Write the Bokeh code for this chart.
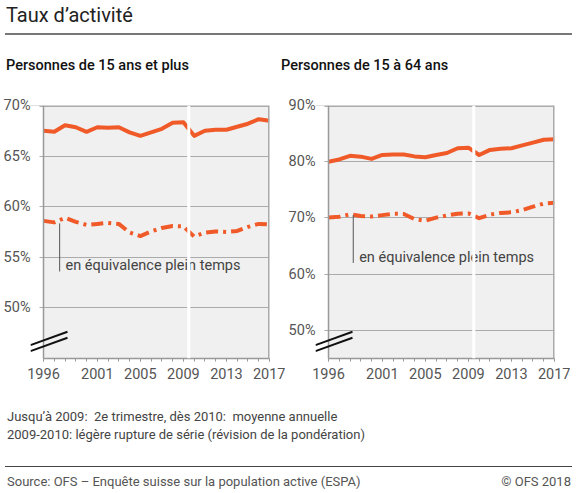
from bokeh.plotting import figure
from bokeh.models import Range1d, FixedTicker, Span, Arrow, Div, BoxAnnotation
from bokeh.layouts import column, row
from bokeh.embed import file_html
from bokeh.resources import INLINE
from bokeh.core.properties import value

# ---------------- data ----------------
years = list(range(1996, 2018))
# Personnes de 15 ans et plus
rate_15plus = [67.5, 67.4, 68.05, 67.85, 67.4, 67.85, 67.8, 67.85, 67.35, 67.0, 67.35,
               67.7, 68.3, 68.35, 67.0, 67.5, 67.6, 67.6, 67.9, 68.2, 68.65, 68.5]
fte_15plus = [58.6, 58.45, 58.9, 58.5, 58.2, 58.3, 58.4, 58.3, 57.45, 57.1, 57.55,
              57.9, 58.1, 58.05, 57.05, 57.45, 57.55, 57.5, 57.6, 58.0, 58.3, 58.25]
# Personnes de 15 à 64 ans
rate_1564 = [80.0, 80.4, 81.05, 80.9, 80.5, 81.2, 81.3, 81.3, 80.95, 80.8, 81.2,
             81.55, 82.4, 82.5, 81.2, 82.1, 82.3, 82.4, 82.9, 83.4, 83.9, 84.0]
fte_1564 = [70.1, 70.2, 70.65, 70.35, 70.25, 70.5, 70.75, 70.7, 69.8, 69.5, 70.05,
            70.45, 70.75, 70.8, 69.95, 70.6, 70.9, 71.0, 71.4, 72.0, 72.55, 72.7]

x_tick_years = [1996, 2001, 2005, 2009, 2013, 2017]
y_ticks_left = [50, 55, 60, 65, 70]
y_labels_left = ["50%", "55%", "60%", "65%", "70%"]
y_ticks_right = [50, 60, 70, 80, 90]
y_labels_right = ["50%", "60%", "70%", "80%", "90%"]

title_text = "Taux d’activité"
sub_left = "Personnes de 15 ans et plus"
sub_right = "Personnes de 15 à 64 ans"
note_text = "en équivalence plein temps"
foot1 = "Jusqu’à 2009:  2e trimestre, dès 2010:  moyenne annuelle"
foot2 = "2009-2010: légère rupture de série (révision de la pondération)"
source = "Source: OFS – Enquête suisse sur la population active (ESPA)"
copyright_ = "© OFS 2018"

# ---------------- style ----------------
FONT = "Roboto"
ORANGE = "#f05a28"
GRID = "#ababab"
AXIS = "#999999"
LABEL = "#555555"
PX_PER_YEAR = 226 / 21
X_START = years[0] - 13 / PX_PER_YEAR      # white strip left of the y axis
STUB_END = years[0] - 4 / PX_PER_YEAR      # short tick stubs of the grid


def make_fig(ylo, yhi, yticks, ylabels, mb_left, mb_right):
    p = figure(output_backend="svg", toolbar_location=None,
               frame_width=239, frame_height=253,
               min_border_left=mb_left, min_border_right=mb_right,
               min_border_top=20, min_border_bottom=33,
               x_range=Range1d(X_START, years[-1]), y_range=Range1d(ylo, yhi))
    p.background_fill_color = "white"
    p.border_fill_color = "white"
    p.outline_line_color = None

    # grey plotting panel (below the grid)
    p.add_layout(BoxAnnotation(left=years[0], right=years[-1], fill_color="#f0f0f0",
                               fill_alpha=1, line_color=None, level="image"))

    p.xgrid.visible = False
    p.ygrid.ticker = FixedTicker(ticks=yticks)
    p.ygrid.grid_line_color = GRID
    p.ygrid.grid_line_width = 1.2

    xa = p.xaxis[0]
    xa.bounds = (years[0], years[-1])
    xa.ticker = FixedTicker(ticks=x_tick_years, minor_ticks=years)
    xa.axis_line_color = AXIS
    xa.axis_line_width = 1.5
    xa.major_tick_line_color = AXIS
    xa.minor_tick_line_color = AXIS
    xa.major_tick_out = 3
    xa.major_tick_in = 0
    xa.minor_tick_out = 3
    xa.minor_tick_in = 0
    xa.major_label_standoff = 6
    xa.major_label_text_font = FONT
    xa.major_label_text_font_size = "14.5px"
    xa.major_label_text_color = LABEL

    ya = p.yaxis[0]
    ya.ticker = FixedTicker(ticks=yticks)
    ya.major_label_overrides = dict(zip(yticks, ylabels))
    ya.axis_line_color = None
    ya.major_tick_line_color = None
    ya.major_tick_out = 0
    ya.major_tick_in = 0
    ya.minor_tick_line_color = None
    ya.minor_tick_out = 0
    ya.major_label_standoff = 0
    ya.major_label_text_font = FONT
    ya.major_label_text_font_size = "14.5px"
    ya.major_label_text_color = LABEL
    return p


def add_series(p, main, fte, ytop):
    p.line(years, main, line_color=ORANGE, line_width=4, line_join="round")
    p.line(years, fte, line_color=ORANGE, line_width=4, line_dash="12 5 3 5",
           line_join="round")
    # panel border: top, right, y axis line
    p.add_layout(Span(location=ytop, dimension="width", line_color=GRID, line_width=3))
    p.add_layout(Span(location=years[-1], dimension="height", line_color=GRID,
                      line_width=3))
    p.add_layout(Span(location=years[0], dimension="height", line_color=AXIS,
                      line_width=1.5))
    # series break 2009/2010
    p.add_layout(Span(location=2009.5, dimension="height", line_color="white",
                      line_width=3))
    # white strip left of the axis (keeps only short tick stubs of the grid)
    p.add_layout(BoxAnnotation(right=STUB_END, fill_color="white", fill_alpha=1,
                               line_color=None, level="annotation"))


def add_break(p, pairs):
    x1 = years[0] + 24 / PX_PER_YEAR
    for y0, y1 in pairs:
        p.add_layout(Arrow(end=None, x_start=X_START, y_start=y0, x_end=x1, y_end=y1,
                           line_color="#111111", line_width=2))


p1 = make_fig(45, 70, y_ticks_left, y_labels_left, 28, 16)
add_series(p1, rate_15plus, fte_15plus, 70)
p1.segment(x0=[1997.5], y0=[58.35], x1=[1997.5], y1=[53.6], line_color="#555555",
           line_width=1)
p1.text(x=[1998.05], y=[54.2], text=[note_text], text_font=value(FONT),
        text_font_size="14.5px", text_color="#444444", text_baseline="middle",
        text_align="left")
add_break(p1, [(46.32, 47.64), (45.73, 47.05)])

p2 = make_fig(45, 90, y_ticks_right, y_labels_right, 29, 16)
add_series(p2, rate_1564, fte_1564, 90)
p2.segment(x0=[1998.3], y0=[70.5], x1=[1998.3], y1=[62.0], line_color="#555555",
           line_width=1)
p2.text(x=[1998.85], y=[63.0], text=[note_text], text_font=value(FONT),
        text_font_size="14.5px", text_color="#444444", text_baseline="middle",
        text_align="left")
add_break(p2, [(47.38, 49.75), (46.32, 48.68)])

W = 567
sub_style = ("position:absolute;top:52px;font-size:14.5px;line-height:18px;"
             "font-weight:500;color:#111;white-space:nowrap;")
title_html = (
    f'<div style="position:relative;width:{W}px;height:75px;font-family:Roboto,sans-serif;">'
    f'<div style="position:absolute;left:1px;top:0px;font-size:20px;line-height:20px;color:#222;white-space:nowrap;">{title_text}</div>'
    f'<div style="position:absolute;left:0;top:28px;width:{W}px;height:0;border-top:2.5px solid #777;"></div>'
    f'<div style="{sub_style}left:1px;">{sub_left}</div>'
    f'<div style="{sub_style}left:276px;">{sub_right}</div>'
    '</div>')
foot_html = (
    f'<div style="position:relative;width:{W}px;height:96px;font-family:Roboto,sans-serif;font-size:13px;line-height:16px;color:#444;">'
    f'<div style="position:absolute;left:2px;top:13px;white-space:pre;">{foot1}</div>'
    f'<div style="position:absolute;left:2px;top:31px;white-space:pre;">{foot2}</div>'
    f'<div style="position:absolute;left:0;top:70px;width:{W}px;height:0;border-top:1.5px solid #444;"></div>'
    f'<div style="position:absolute;left:2px;top:78px;white-space:pre;color:#555;">{source}</div>'
    f'<div style="position:absolute;right:1px;top:78px;white-space:pre;color:#555;">{copyright_}</div>'
    '</div>')

title_div = Div(text=title_html, width=W, height=75)
foot_div = Div(text=foot_html, width=W, height=96)

layout = column(title_div, row(p1, p2), foot_div)
open("out.html", "w").write(file_html(layout, INLINE))
